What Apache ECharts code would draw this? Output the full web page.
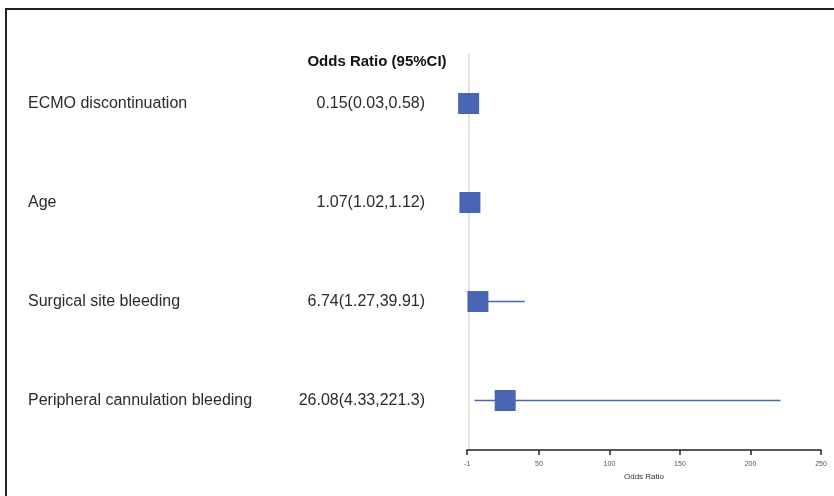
<!DOCTYPE html>
<html lang="en">
<head>
    <meta charset="UTF-8">
    <title>Odds Ratio forest plot</title>
    <script src="https://cdn.jsdelivr.net/npm/echarts/dist/echarts.min.js"></script>
    <style>
        html, body { margin: 0; padding: 0; background: #fff; }
        #main { width: 834px; height: 496px; }
    </style>
</head>
<body>
    <div id="main"></div>

    <script>
        var chart = echarts.init(document.getElementById('main'));

        // data
        var factors = ['ECMO discontinuation', 'Age', 'Surgical site bleeding', 'Peripheral cannulation bleeding'];
        var orValues = [0.15, 1.07, 6.74, 26.08];
        var ciLow = [0.03, 1.02, 1.27, 4.33];
        var ciHigh = [0.58, 1.12, 39.91, 221.3];
        var orText = ['0.15(0.03,0.58)', '1.07(1.02,1.12)', '6.74(1.27,39.91)', '26.08(4.33,221.3)'];
        var xTicks = [-1, 50, 100, 150, 200, 250];

        var blue = '#4866b4';
        var gridLeft = 467;

        var option = {
            animation: false,
            backgroundColor: '#fff',
            textStyle: { fontFamily: 'Liberation Sans, Arial, sans-serif' },
            title: {
                text: 'Odds Ratio (95%CI)',
                left: 372,
                top: 49,
                textAlign: 'center',
                textStyle: { fontSize: 15, fontWeight: 'bold', color: '#111' }
            },
            graphic: [
                // frame
                {
                    type: 'polyline',
                    shape: { points: [[6, 496], [6, 9], [834, 9]] },
                    style: { stroke: '#222', lineWidth: 2, fill: null }
                }
            ],
            grid: { left: gridLeft, right: 13, top: 54, bottom: 46 },
            xAxis: {
                type: 'value',
                min: -1,
                max: 250,
                name: 'Odds Ratio',
                nameLocation: 'middle',
                nameGap: 23,
                nameTextStyle: { fontSize: 8, color: '#333' },
                axisLine: { show: true, lineStyle: { color: '#222', width: 1.5 } },
                axisTick: { show: true, customValues: xTicks, length: 5, lineStyle: { color: '#222', width: 1.5 } },
                axisLabel: { customValues: xTicks, fontSize: 7, color: '#555', margin: 11 },
                splitLine: { show: false }
            },
            yAxis: [
                {
                    type: 'category',
                    data: factors,
                    inverse: true,
                    axisLine: { show: true, lineStyle: { color: '#d8d8d8', width: 1.5 } },
                    axisTick: { show: false },
                    axisLabel: { align: 'left', margin: gridLeft - 28, fontSize: 16, color: '#2a2a2a' }
                },
                {
                    type: 'category',
                    position: 'left',
                    data: orText,
                    inverse: true,
                    axisLine: { show: false },
                    axisTick: { show: false },
                    axisLabel: { align: 'right', margin: gridLeft - 425, fontSize: 16, color: '#2a2a2a' }
                }
            ],
            series: [
                {
                    type: 'custom',
                    renderItem: function (params, api) {
                        var y = api.value(0);
                        var p1 = api.coord([api.value(1), y]);
                        var p2 = api.coord([api.value(2), y]);
                        return {
                            type: 'line',
                            shape: { x1: p1[0], y1: p1[1], x2: p2[0], y2: p2[1] },
                            style: { stroke: blue, lineWidth: 1.5 }
                        };
                    },
                    encode: { x: [1, 2], y: 0 },
                    data: factors.map(function (f, i) { return [i, ciLow[i], ciHigh[i]]; }),
                    z: 2
                },
                {
                    type: 'scatter',
                    symbol: 'rect',
                    symbolSize: 21,
                    itemStyle: { color: blue, opacity: 1 },
                    data: factors.map(function (f, i) { return [orValues[i], i]; }),
                    z: 3
                }
            ]
        };

        chart.setOption(option);
    </script>
</body>
</html>
